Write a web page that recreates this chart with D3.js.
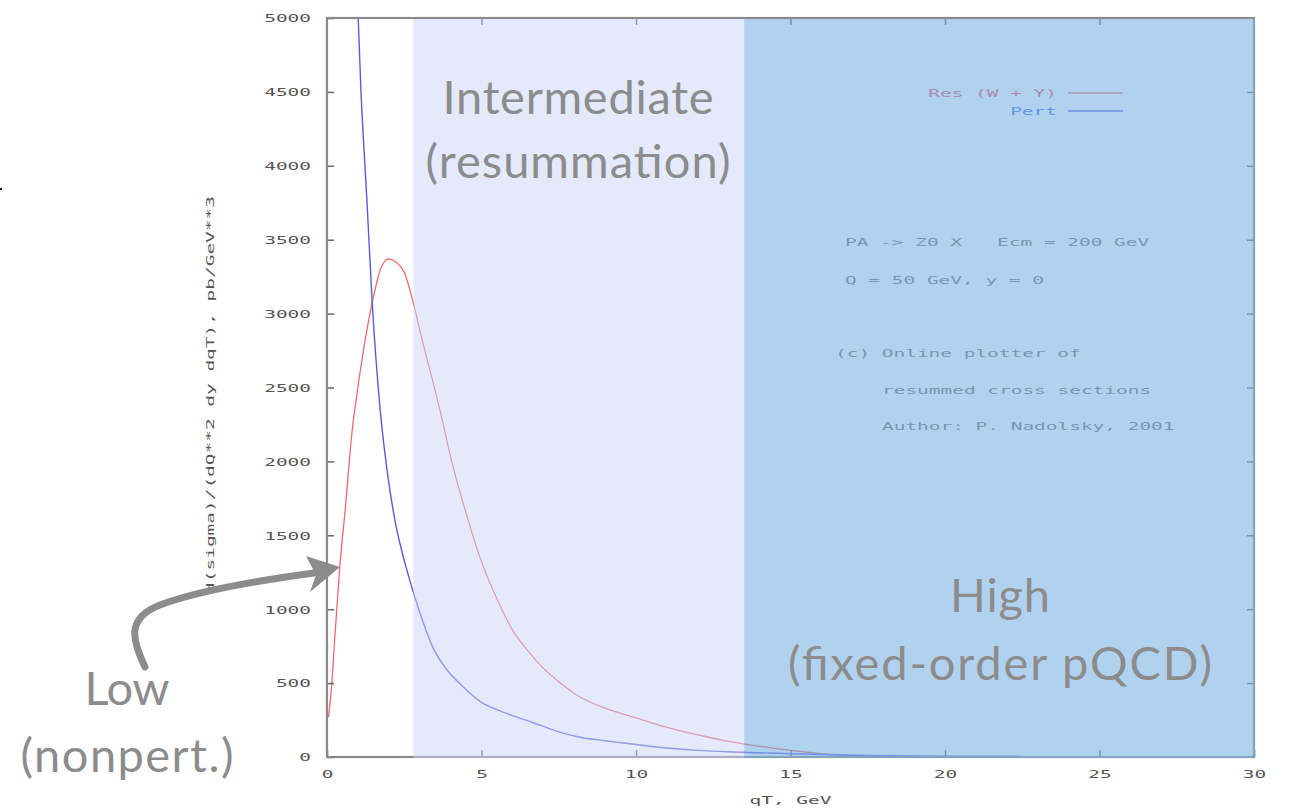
<!DOCTYPE html>
<html>
<head>
<meta charset="utf-8">
<script src="https://cdn.jsdelivr.net/npm/d3@7"></script>
<style>
  body { margin: 0; background: #fff; }
  svg { display: block; }
</style>
</head>
<body>
<div id="chart"></div>
<script>
// values
const resQt = [0.05, 0.15, 0.25, 0.4, 0.6, 0.8, 1.0, 1.25, 1.5, 1.75, 2.0, 2.25, 2.5, 2.75, 3.0, 3.25, 3.5, 3.75, 4.0, 4.5, 5.0, 5.5, 6.0, 6.5, 7.0, 7.5, 8.0, 9.0, 10.0, 11.0, 12.0, 13.0, 14.0, 15.0, 16.0, 17.0, 18.0];
const resSigma = [270, 480, 800, 1250, 1700, 2180, 2500, 2840, 3110, 3310, 3370, 3345, 3280, 3110, 2890, 2680, 2480, 2263, 2030, 1650, 1320, 1070, 860, 720, 600, 510, 430, 330, 265, 200, 150, 105, 72, 45, 22, 9, 3];
const pertQt = [0.9, 1.0, 1.1, 1.2, 1.29, 1.46, 1.72, 1.97, 2.2, 2.5, 2.7, 3.0, 3.43, 4.0, 4.3, 5.0, 5.5, 6.0, 6.7, 7.5, 8.15, 9.0, 9.6, 11.0, 12.0, 13.2, 14.5, 15.4, 16.8, 18.0, 20.0, 22.4];
const pertSigma = [5700, 5050, 4500, 4100, 3774, 3083, 2351, 1900, 1600, 1330, 1180, 980, 740, 560, 495, 370, 320, 280, 230, 170, 135, 110, 95, 61, 45, 34, 25, 20, 14, 9, 5, 3];
const xTicks = [0, 5, 10, 15, 20, 25, 30];
const yTicks = [0, 500, 1000, 1500, 2000, 2500, 3000, 3500, 4000, 4500, 5000];
const legendNames = ["Res (W + Y)", "Pert"];
const infoLines = ["PA -> Z0 X   Ecm = 200 GeV", "Q = 50 GeV, y = 0", "(c) Online plotter of", "resummed cross sections", "Author: P. Nadolsky, 2001"];
// qT ranges of the three regions
const regionBounds = [0, 2.8, 13.5, 30];
const regionLabels = [["Low", "(nonpert.)"], ["Intermediate", "(resummation)"], ["High", "(fixed-order pQCD)"]];

const W = 1293, H = 811;
const pLeft = 327, pRight = 1254, pTop = 18, pBottom = 757;
const charW = 11.7;

const svg = d3.select("#chart").append("svg")
  .attr("width", W).attr("height", H);

const x = d3.scaleLinear().domain([0, 30]).range([pLeft, pRight]);
const y = d3.scaleLinear().domain([0, 5000]).range([pBottom, pTop]);

const mono = (sel, s) => sel
  .attr("font-family", "DejaVu Sans Mono")
  .attr("font-size", 11)
  .attr("textLength", s.length * charW)
  .attr("lengthAdjust", "spacingAndGlyphs")
  .style("white-space", "pre")
  .text(s);

svg.append("defs").append("clipPath").attr("id", "plotClip")
  .append("rect").attr("x", pLeft).attr("y", pTop).attr("width", pRight - pLeft).attr("height", pBottom - pTop);

// ---- gnuplot picture ----
const g = svg.append("g");

const line = d3.line().x(d => x(d[0])).y(d => y(d[1])).curve(d3.curveMonotoneX);

g.append("path")
  .datum(resQt.map((q, i) => [q, resSigma[i]]))
  .attr("d", line)
  .attr("clip-path", "url(#plotClip)")
  .attr("fill", "none").attr("stroke", "#f06868").attr("stroke-width", 1.3);

g.append("path")
  .datum(pertQt.map((q, i) => [q, pertSigma[i]]))
  .attr("d", line)
  .attr("clip-path", "url(#plotClip)")
  .attr("fill", "none").attr("stroke", "#5a5ae0").attr("stroke-width", 1.4);

// axes with inward ticks, mirrored
const styleAxis = (ax) => {
  ax.select(".domain").remove();
  ax.selectAll(".tick line").attr("stroke", "#666").attr("stroke-width", 1.5);
};
const yAxis = g.append("g").attr("transform", `translate(${pLeft},0)`)
  .call(d3.axisLeft(y).tickValues(yTicks).tickSize(-7).tickPadding(16));
styleAxis(yAxis);
yAxis.selectAll(".tick text").each(function(d) {
  mono(d3.select(this), String(d)).attr("fill", "#555").attr("dy", "0.35em");
});
const yAxisR = g.append("g").attr("transform", `translate(${pRight},0)`)
  .call(d3.axisRight(y).tickValues(yTicks.slice(1, -1)).tickSize(-7).tickFormat(""));
styleAxis(yAxisR);

const xAxis = g.append("g").attr("transform", `translate(0,${pBottom})`)
  .call(d3.axisBottom(x).tickValues(xTicks).tickSize(-7).tickPadding(13));
styleAxis(xAxis);
xAxis.selectAll(".tick text").each(function(d) {
  mono(d3.select(this), String(d)).attr("fill", "#555");
});
const xAxisT = g.append("g").attr("transform", `translate(0,${pTop})`)
  .call(d3.axisTop(x).tickValues(xTicks.slice(1, -1)).tickSize(-7).tickFormat(""));
styleAxis(xAxisT);

g.append("rect")
  .attr("x", pLeft).attr("y", pTop).attr("width", pRight - pLeft).attr("height", pBottom - pTop)
  .attr("fill", "none").attr("stroke", "#8a8a8a").attr("stroke-width", 2.2);

mono(g.append("text").attr("x", x(15)).attr("y", 804).attr("text-anchor", "middle").attr("fill", "#555"), "qT, GeV");
mono(g.append("text").attr("transform", "translate(214,395) rotate(-90)").attr("text-anchor", "middle").attr("fill", "#555"),
  "d(sigma)/(dQ**2 dy dqT), pb/GeV**3");

// legend
const legColors = ["#e05060", "#3a64f0"];
const lineColors = ["#f06868", "#5a5ae0"];
legendNames.forEach((name, i) => {
  const ly = 93 + i * 18;
  mono(g.append("text").attr("x", 1057).attr("y", ly + 4).attr("text-anchor", "end").attr("fill", legColors[i]), name);
  g.append("line").attr("x1", 1068).attr("x2", 1123).attr("y1", ly).attr("y2", ly)
    .attr("stroke", lineColors[i]).attr("stroke-width", 1.3);
});

// info block
const infoPos = [[845, 246], [845, 284], [835, 357], [882, 394], [882, 430]];
infoLines.forEach((s, i) => {
  mono(g.append("text").attr("x", infoPos[i][0]).attr("y", infoPos[i][1]).attr("fill", "#6a6a6a"), s);
});

svg.append("rect").attr("x", 0).attr("y", 188).attr("width", 2).attr("height", 2).attr("fill", "#222");

// ---- slide overlay: region shading ----
const shade = [null, { fill: "rgb(201,213,249)", op: 0.5 }, { fill: "rgb(125,180,228)", op: 0.6 }];
shade.forEach((s, i) => {
  if (!s) return;
  svg.append("rect")
    .attr("x", x(regionBounds[i])).attr("y", pTop + 1)
    .attr("width", x(regionBounds[i + 1]) - x(regionBounds[i]) + (i === 2 ? 1 : 0))
    .attr("height", pBottom - pTop)
    .attr("fill", s.fill).attr("fill-opacity", s.op);
});

// region labels
const labelFont = "Lato, 'Open Sans', sans-serif";
const labelPos = [[127, 705, 772], [578, 114, 178], [1000, 612, 680]];
const labelWidths = [[85, 213], [271, 305], [100, 424]];
regionLabels.forEach((lab, i) => {
  lab.forEach((s, j) => {
    svg.append("text")
      .attr("x", labelPos[i][0]).attr("y", labelPos[i][1 + j])
      .attr("text-anchor", "middle")
      .attr("font-family", labelFont).attr("font-size", 47)
      .attr("textLength", labelWidths[i][j])
      .attr("lengthAdjust", "spacing")
      .attr("fill", "#8c8c8c")
      .text(s);
  });
});

// arrow pointing at the low-qT rise
svg.append("path")
  .attr("d", "M145,667 C132,640 126,618 160,605 C200,590 262,580 314,573")
  .attr("fill", "none").attr("stroke", "#8c8c8c").attr("stroke-width", 7).attr("stroke-linecap", "round");
svg.append("path")
  .attr("d", "M340,567 L306,556 L316,575 L310,592 Z")
  .attr("fill", "#8c8c8c");
</script>
</body>
</html>
